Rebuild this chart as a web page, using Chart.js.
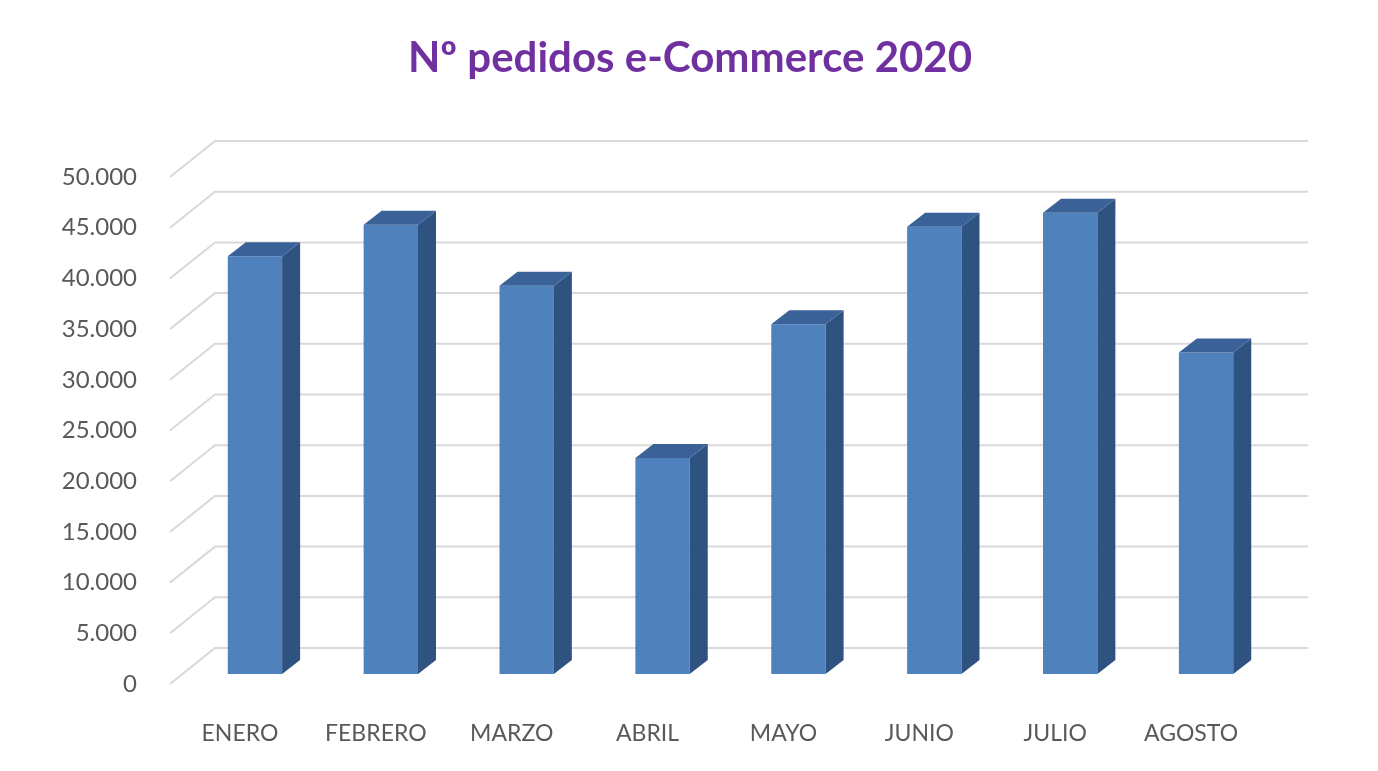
<!DOCTYPE html>
<html><head><meta charset="utf-8">
<script src="https://cdn.jsdelivr.net/npm/chart.js@4"></script>
<style>html,body{margin:0;padding:0;background:#fff}canvas{display:block}</style>
</head><body>
<canvas id="c" width="1378" height="771"></canvas>
<script>
const categories = ["ENERO","FEBRERO","MARZO","ABRIL","MAYO","JUNIO","JULIO","AGOSTO"];
const pedidos = [41200, 44300, 38300, 21300, 34500, 44100, 45500, 31700];
const yTicks = [0,5000,10000,15000,20000,25000,30000,35000,40000,45000,50000];
const title = "Nº pedidos e-Commerce 2020";

const DX = 18, DY = 14;
const threeD = {
  id: 'threeD',
  beforeDatasetsDraw(chart) {
    const ctx = chart.ctx, ys = chart.scales.y;
    ctx.save();
    ctx.strokeStyle = '#d9d9d9'; ctx.lineWidth = 2;
    yTicks.forEach(v => {
      const y = ys.getPixelForValue(v);
      ctx.beginPath();
      ctx.moveTo(170, y + 10); ctx.lineTo(215, y - 26); ctx.lineTo(1308, y - 26);
      ctx.stroke();
    });
    ctx.restore();
  },
  afterDatasetsDraw(chart) {
    const ctx = chart.ctx;
    chart.getDatasetMeta(0).data.forEach(b => {
      const l = b.x - b.width / 2, r = b.x + b.width / 2, t = b.y, bo = b.base;
      ctx.fillStyle = '#2F5381';
      ctx.beginPath();
      ctx.moveTo(r, t); ctx.lineTo(r + DX, t - DY); ctx.lineTo(r + DX, bo - DY); ctx.lineTo(r, bo);
      ctx.closePath(); ctx.fill();
      ctx.fillStyle = '#3A6298';
      ctx.beginPath();
      ctx.moveTo(l, t); ctx.lineTo(l + DX, t - DY); ctx.lineTo(r + DX, t - DY); ctx.lineTo(r, t);
      ctx.closePath(); ctx.fill();
    });
  },
  afterDraw(chart) {
    const ctx = chart.ctx;
    ctx.save();
    ctx.fillStyle = '#7030A0';
    ctx.font = 'bold 42px Lato';
    ctx.textAlign = 'center'; ctx.textBaseline = 'middle';
    ctx.fillText(title, 690, 58);
    ctx.restore();
  }
};

new Chart(document.getElementById('c'), {
  type: 'bar',
  data: { labels: categories, datasets: [{ data: pedidos, backgroundColor: '#4F81BD',
    barPercentage: 0.4, categoryPercentage: 1 }] },
  options: {
    responsive: false, animation: false,
    layout: { padding: { left: 0, right: 104, top: 167, bottom: 0 } },
    plugins: { legend: { display: false }, tooltip: { enabled: false }, title: { display: false } },
    scales: {
      x: {
        grid: { display: false }, border: { display: false },
        ticks: { color: '#595959', font: { family: 'Lato', size: 23 }, padding: 38, labelOffset: -15, maxRotation: 0 },
        afterFit(s) { s.height = 97; }
      },
      y: {
        min: 0, max: 50000,
        grid: { display: false }, border: { display: false },
        afterBuildTicks(s) { s.ticks = yTicks.map(v => ({ value: v })); },
        ticks: { color: '#595959', font: { family: 'Lato', size: 24 }, padding: 42, labelOffset: 10,
          callback: v => v.toLocaleString('de-DE') },
        afterFit(s) { s.width = 187; }
      }
    }
  },
  plugins: [threeD]
});
</script>
</body></html>
